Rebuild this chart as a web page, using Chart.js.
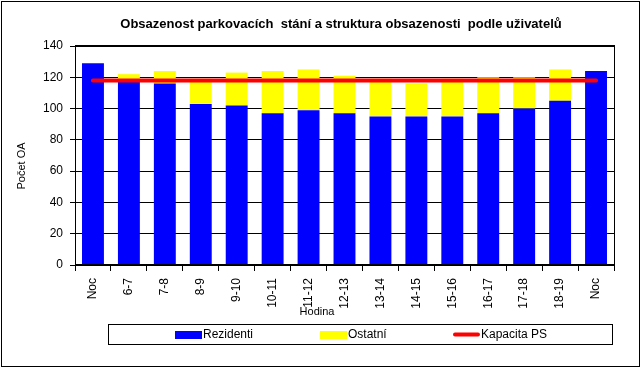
<!DOCTYPE html>
<html lang="cs">
<head>
  <meta charset="UTF-8">
  <title>Obsazenost parkovacích stání</title>
  <script src="https://cdn.jsdelivr.net/npm/chart.js@4.4.1/dist/chart.umd.min.js"></script>
  <style>
    html, body { margin: 0; padding: 0; background: #fff; }
    #wrap { width: 642px; height: 368px; }
  </style>
</head>
<body>
  <div id="wrap"><canvas id="chart" width="642" height="368"></canvas></div>

  <script>
    // Data
    const hodiny = ['Noc', '6-7', '7-8', '8-9', '9-10', '10-11', '11-12', '12-13', '13-14', '14-15', '15-16', '16-17', '17-18', '18-19', 'Noc'];
    const rezidenti = [129, 117, 116, 103, 102, 97, 99, 97, 95, 95, 95, 97, 100, 105, 124];
    const ostatni = [0, 5, 8, 16, 21, 27, 26, 24, 24, 21, 24, 23, 20, 20, 0];
    const kapacita = [118, 118, 118, 118, 118, 118, 118, 118, 118, 118, 118, 118, 118, 118, 118];
    const yTicks = [0, 20, 40, 60, 80, 100, 120, 140];

    const FONT = 'Arial, "Liberation Sans", sans-serif';

    // titles, borders and the boxed legend
    const decor = {
      id: 'decor',
      afterDraw(chart) {
        const ctx = chart.ctx;
        const a = chart.chartArea;
        ctx.save();
        ctx.strokeStyle = '#000';
        ctx.lineWidth = 1;
        ctx.strokeRect(a.left + 0.5, a.top - 0.5, a.right - a.left, a.bottom - a.top);
        ctx.strokeRect(1.5, 1.5, 638, 365);

        ctx.fillStyle = '#000';
        ctx.textAlign = 'center';
        ctx.textBaseline = 'middle';
        ctx.font = 'bold 13px ' + FONT;
        ctx.fillText('Obsazenost parkovacích  stání a struktura obsazenosti  podle uživatelů', 341, 24);

        ctx.font = '11px ' + FONT;
        ctx.fillText('Hodina', 317, 312);
        ctx.save();
        ctx.translate(22, 166);
        ctx.rotate(-Math.PI / 2);
        ctx.fillText('Počet OA', 0, 0);
        ctx.restore();

        // legend
        ctx.strokeRect(108.5, 324.5, 504, 20);
        const ds = chart.data.datasets;
        const pos = [175, 320, 453];
        ctx.font = '12px ' + FONT;
        ctx.textAlign = 'left';
        ds.forEach((d, i) => {
          const x = pos[i];
          if (d.type === 'line') {
            ctx.strokeStyle = d.borderColor;
            ctx.lineWidth = 4;
            ctx.lineCap = 'round';
            ctx.beginPath();
            ctx.moveTo(x + 2, 334.5);
            ctx.lineTo(x + 25, 334.5);
            ctx.stroke();
          } else {
            ctx.fillStyle = d.backgroundColor;
            ctx.fillRect(x, 331, 27, 8);
          }
          ctx.fillStyle = '#000';
          ctx.fillText(d.label, x + 28, 335);
        });
        ctx.restore();
      }
    };

    new Chart(document.getElementById('chart'), {
      type: 'bar',
      data: {
        labels: hodiny,
        datasets: [
          { label: 'Rezidenti', data: rezidenti, backgroundColor: '#0000FF', stack: 'obs', barPercentage: 0.61, categoryPercentage: 1 },
          { label: 'Ostatní', data: ostatni, backgroundColor: '#FFFF00', stack: 'obs', barPercentage: 0.61, categoryPercentage: 1 },
          { type: 'line', label: 'Kapacita PS', data: kapacita, borderColor: '#FF0000', borderWidth: 4, borderCapStyle: 'round',
            pointRadius: 0, stack: 'cap', order: -1, tension: 0 }
        ]
      },
      options: {
        responsive: false,
        animation: false,
        layout: { padding: { top: 46, right: 28, bottom: 0, left: 0 } },
        plugins: {
          legend: { display: false },
          tooltip: { enabled: false }
        },
        scales: {
          x: {
            stacked: true,
            afterFit(scale) { scale.height = 103; },
            grid: { display: true, offset: true, drawOnChartArea: false, color: '#000', tickLength: 6 },
            border: { color: '#000' },
            ticks: {
              autoSkip: false, minRotation: 90, maxRotation: 90, padding: 7,
              color: '#000', font: { family: FONT, size: 12 }
            }
          },
          y: {
            stacked: true,
            min: 0,
            max: 140,
            afterFit(scale) { scale.width = 75; },
            afterBuildTicks(scale) { scale.ticks = yTicks.map(v => ({ value: v })); },
            grid: { color: '#000', tickLength: 5 },
            border: { color: '#000' },
            ticks: { padding: 7, color: '#000', font: { family: FONT, size: 12 } }
          }
        }
      },
      plugins: [decor]
    });
  </script>
</body>
</html>
